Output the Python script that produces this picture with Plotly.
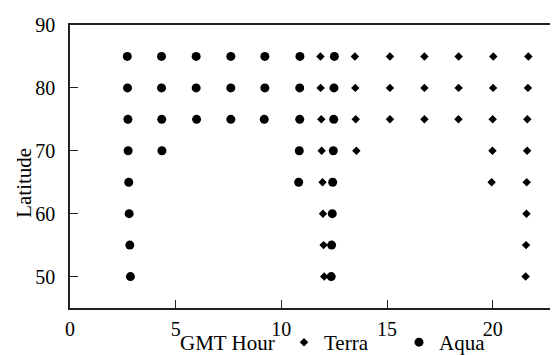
import plotly.graph_objects as go

# Aqua overpasses (circles): GMT hour and latitude
aqua_hour = [2.71, 2.72, 2.74, 2.75, 2.78, 2.80, 2.83, 2.86,
             4.33, 4.33, 4.34, 4.35,
             5.97, 5.97, 5.99,
             7.61, 7.61, 7.61,
             9.22, 9.22, 9.19,
             10.88, 10.87, 10.87, 10.85, 10.82,
             12.51, 12.49, 12.48, 12.46, 12.43, 12.41, 12.38, 12.36]
aqua_lat = [85, 80, 75, 70, 65, 60, 55, 50,
            85, 80, 75, 70,
            85, 80, 75,
            85, 80, 75,
            85, 80, 75,
            85, 80, 75, 70, 65,
            85, 80, 75, 70, 65, 60, 55, 50]

# Terra overpasses (diamonds)
terra_hour = [11.85, 11.86, 11.89, 11.91, 11.95, 11.97, 12.00, 12.03,
              13.48, 13.50, 13.52, 13.55,
              15.14, 15.14, 15.14,
              16.77, 16.77, 16.77,
              18.39, 18.39, 18.38,
              20.03, 20.02, 20.00, 19.99, 19.95,
              21.69, 21.67, 21.64, 21.63, 21.61, 21.60, 21.58, 21.56]
terra_lat = [85, 80, 75, 70, 65, 60, 55, 50,
             85, 80, 75, 70,
             85, 80, 75,
             85, 80, 75,
             85, 80, 75,
             85, 80, 75, 70, 65,
             85, 80, 75, 70, 65, 60, 55, 50]

x_ticks = [0, 5, 10, 15, 20]
y_ticks = [50, 60, 70, 80, 90]

FONT = "Liberation Serif"
TICKFONT = "Times New Roman, Liberation Serif, serif"

fig = go.Figure()
fig.add_trace(go.Scatter(
    x=terra_hour, y=terra_lat, mode="markers", name="Terra",
    marker=dict(symbol="diamond", size=6.5, color="black"),
    legend="legend"))
fig.add_trace(go.Scatter(
    x=aqua_hour, y=aqua_lat, mode="markers", name="Aqua",
    marker=dict(symbol="circle", size=9, color="black"),
    legend="legend2"))

L, T, W, H = 62, 17, 558, 355
PW = W - L
PH = 311 - T

def px_x(p):
    return (p - L) / PW

def px_y(p):
    return (311 - p) / PH

axis_common = dict(
    showgrid=False, zeroline=False, showline=True, linecolor="#222",
    linewidth=1.5, ticks="inside", ticklen=8, tickwidth=1.2, tickcolor="#222",
)

fig.update_xaxes(range=[0, 23.47], tickvals=x_ticks, mirror=True,
                 ticklabelstandoff=2,
                 tickfont=dict(family=TICKFONT, size=20, color="black"),
                 **axis_common)
fig.update_yaxes(range=[45, 90], tickvals=y_ticks, mirror=False,
                 ticklabelstandoff=9,
                 tickfont=dict(family=TICKFONT, size=20, color="black"),
                 **axis_common)

fig.add_annotation(text="GMT Hour", xref="paper", yref="paper",
                   x=px_x(219.5), y=px_y(347), showarrow=False,
                   xanchor="center", yanchor="middle",
                   font=dict(family=FONT, size=21, color="black"))
fig.add_annotation(text="Latitude", xref="paper", yref="paper",
                   x=px_x(16.5), y=px_y(181.5), showarrow=False, textangle=-90,
                   xanchor="center", yanchor="middle",
                   font=dict(family=FONT, size=21, color="black"))

legend_style = dict(orientation="h", xref="paper", yref="paper",
                    yanchor="middle", xanchor="left",
                    font=dict(family=FONT, size=21, color="black"),
                    bgcolor="rgba(0,0,0,0)", borderwidth=0)

fig.update_layout(
    width=W, height=H,
    margin=dict(l=L, r=0, t=T, b=H - 311),
    plot_bgcolor="white", paper_bgcolor="white",
    font=dict(family=FONT, size=20, color="black"),
    showlegend=True,
    legend=dict(x=px_x(276), y=px_y(347), **legend_style),
    legend2=dict(x=px_x(391), y=px_y(347), **legend_style),
)

fig.write_html("out.html")
